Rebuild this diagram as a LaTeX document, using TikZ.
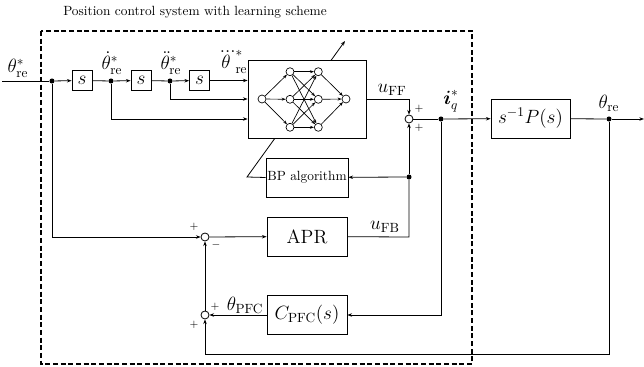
\documentclass[tikz,border=0pt]{standalone}
\usepackage{amsmath}
\usetikzlibrary{arrows.meta}
\begin{document}
\begin{tikzpicture}[x=0.75pt,y=-0.75pt,line width=0.6pt,
  >={Stealth[length=3.5pt,width=2.6pt]},
  sbox/.style={draw,fill=white,inner sep=0pt,minimum width=15pt,minimum height=15pt,font=\Large},
  blk/.style={draw,fill=white,inner sep=0pt,minimum width=60pt,minimum height=29.25pt,font=\Large},
  sumc/.style={draw,circle,fill=white,inner sep=0pt,minimum size=6pt},
  dotn/.style={circle,fill=black,inner sep=0pt,minimum size=3.8pt},
  neu/.style={draw,circle,fill=white,inner sep=0pt,minimum size=6pt,line width=0.5pt},
  lab/.style={inner sep=0pt,font=\Large},
  sgn/.style={inner sep=0pt,font=\footnotesize}]
\useasboundingbox (0,0) rectangle (644,367);
% title and dashed frame
\node[inner sep=0pt] (title) at (195,12) {Position control system with learning scheme};
\draw[line width=0.8pt,dash pattern=on 3.75pt off 2pt] (41,31) rectangle (472,364);
% main nodes
\coordinate (in) at (2,81);
\node[dotn] (d1) at (52,81) {};
\node[sbox] (s1) at (82,80.5) {$s$};
\node[dotn] (d2) at (111,81) {};
\node[sbox] (s2) at (141,80.5) {$s$};
\node[dotn] (d3) at (170,81) {};
\node[sbox] (s3) at (199.5,80.5) {$s$};
% BP algorithm and adaptation arrow (behind NN)
\node[draw,fill=white,inner sep=0pt,minimum width=61.5pt,minimum height=29.25pt] (bp) at (307,177.5) {BP algorithm};
\coordinate (bpc) at (247,177);
\coordinate (adapt) at (345,41);
\draw[->] (bp.west) -- (bpc) -- (adapt);
\node[draw,fill=white,inner sep=0pt,minimum width=88.5pt,minimum height=58.5pt] (nn) at (307,99) {};
% neurons
\node[neu] (i1) at (262,99) {};
\node[neu] (h1) at (290,71.7) {};
\node[neu] (h2) at (290,99.3) {};
\node[neu] (h3) at (290,127.3) {};
\node[neu] (g1) at (318.3,71.7) {};
\node[neu] (g2) at (318.3,99.3) {};
\node[neu] (g3) at (318.3,127.3) {};
\node[neu] (o1) at (346,99) {};
\begin{scope}[line width=0.5pt,>={Stealth[length=3pt,width=2.2pt]}]
\foreach \h in {h1,h2,h3} \draw[->] (i1) -- (\h);
\foreach \h in {h1,h2,h3} \foreach \g in {g1,g2,g3} \draw[->] (\h) -- (\g);
\foreach \g in {g1,g2,g3} \draw[->] (\g) -- (o1);
\end{scope}
\node[sumc] (sff) at (409,119) {};
\node[dotn] (iq) at (441,119) {};
\node[blk,minimum width=59.25pt] (plant) at (530.5,118.5) {$s^{-1}P(s)$};
\node[dotn] (th) at (609,119) {};
\coordinate (out) at (644,119);
\node[dotn] (fbd) at (409,177) {};
\node[sumc] (s1c) at (205,237) {};
\node[blk] (apr) at (307,236.5) {APR};
\node[sumc] (s2c) at (205,315) {};
\node[blk] (cpfc) at (307,315) {$C_{\mathrm{PFC}}(s)$};
\coordinate (aprc) at (409,237);
\coordinate (nnout) at (366,99);
\coordinate (botr) at (609,354);
\coordinate (botl) at (205,354);
% connectors
\draw (in) -- (d1);
\draw[->] (d1) -- (s1);
\draw (s1) -- (d2);
\draw[->] (d2) -- (s2);
\draw (s2) -- (d3);
\draw[->] (d3) -- (s3);
\draw[->] (s3.east) -- (s3.east -| nn.west);
\draw[->] (d3) |- (nn.west);
\draw[->] (d2) |- (nn.west |- sff);
\draw[->] (d1) |- (s1c);
\draw[->] (s1c) -- (apr);
\draw (apr) -- (aprc) -- (fbd);
\draw[->] (fbd) -- (sff);
\draw[->] (fbd) -- (bp);
\draw[->] (nnout) -| (sff.north);
\draw (sff) -- (iq);
\draw[->] (iq) -- (plant);
\draw (plant) -- (th);
\draw[->] (th) -- (out);
\draw[->] (iq) |- (cpfc);
\draw[->] (cpfc) -- (s2c);
\draw[->] (s2c) -- (s1c);
\draw[->] (th) -- (botr) -- (botl) -- (s2c);
% labels
\node[lab] (lin) at (18,68) {$\theta^*_{\mathrm{re}}$};
\node[lab] (l1) at (112,63) {$\dot\theta^*_{\mathrm{re}}$};
\node[lab] (l2) at (171,63) {$\ddot\theta^*_{\mathrm{re}}$};
\node[lab] (l3) at (232,62) {$\dddot\theta^*_{\mathrm{re}}$};
\node[lab] (luff) at (392,90) {$u_{\mathrm{FF}}$};
\node[lab] (lufb) at (385,227) {$u_{\mathrm{FB}}$};
\node[lab] (liq) at (451,101) {$\boldsymbol{i}^*_q$};
\node[lab] (lth) at (609,103) {$\theta_{\mathrm{re}}$};
\node[lab] (lpfc) at (245,305) {$\theta_{\mathrm{PFC}}$};
\node[sgn] (p1) at (419,109) {$+$};
\node[sgn] (p2) at (419,128) {$+$};
\node[sgn] (p3) at (194,227) {$+$};
\node[sgn] (m1) at (216,245) {$-$};
\node[sgn] (p4) at (215,307) {$+$};
\node[sgn] (p5) at (194,325) {$+$};
\end{tikzpicture}
\end{document}
